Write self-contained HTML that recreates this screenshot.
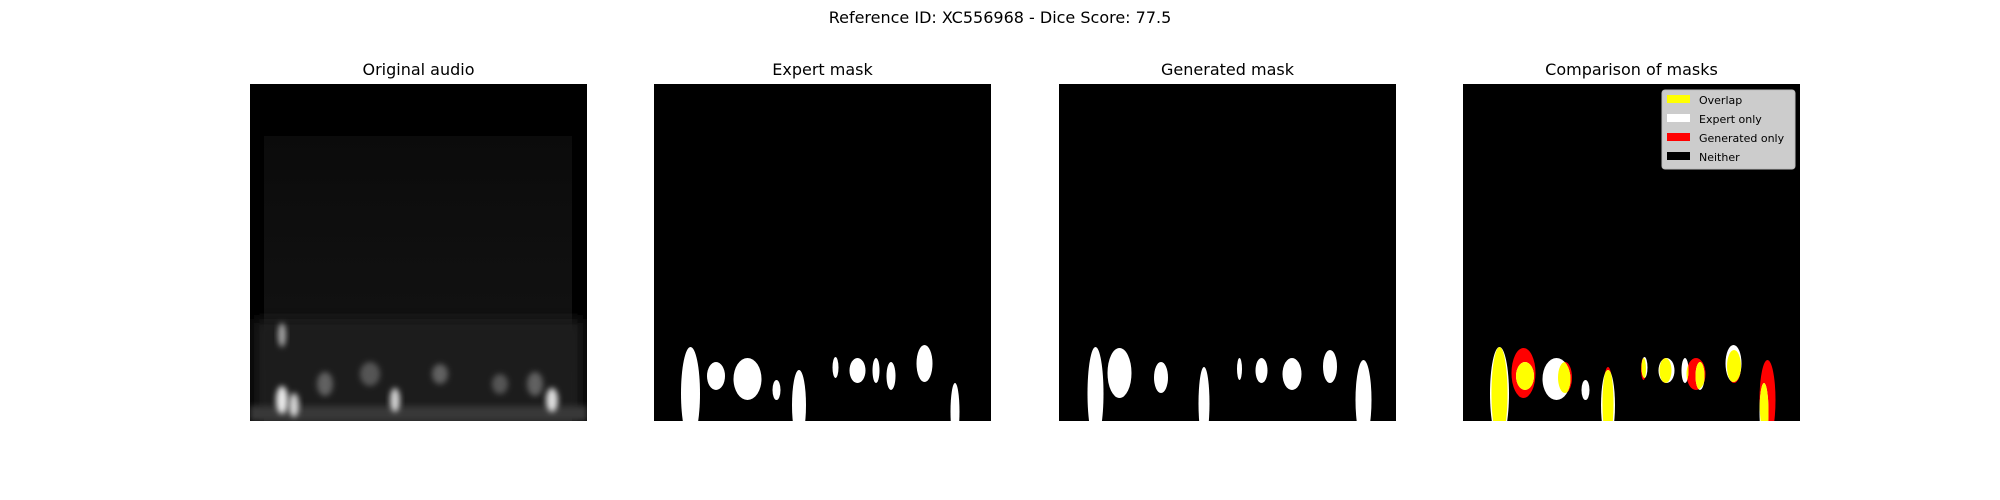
<!DOCTYPE html>
<html><head><meta charset="utf-8"><style>
html,body{margin:0;padding:0;background:#fff;}
svg{display:block;font-family:"DejaVu Sans","Liberation Sans",sans-serif;}
</style></head><body>
<svg id="fig" width="2000" height="500" viewBox="0 0 2000 500">
<defs>
<filter id="blur3" x="-50%" y="-50%" width="200%" height="200%"><feGaussianBlur stdDeviation="3"/></filter>
<filter id="blur6" x="-50%" y="-50%" width="200%" height="200%"><feGaussianBlur stdDeviation="6"/></filter>
<linearGradient id="specGrad" x1="0" y1="0" x2="0" y2="1">
<stop offset="0" stop-color="#0b0b0b"/><stop offset="0.6" stop-color="#111111"/><stop offset="0.85" stop-color="#191919"/><stop offset="1" stop-color="#262626"/></linearGradient>
<clipPath id="panelClip"><rect x="0" y="0" width="337" height="337"/></clipPath>
<clipPath id="expClip"></clipPath>
</defs>
<text x="1000" y="23" text-anchor="middle" font-size="16">Reference ID: XC556968 - Dice Score: 77.5</text>
<g id="p1" transform="translate(250,84)"></g>
<g id="p2" transform="translate(654,84)"></g>
<g id="p3" transform="translate(1059,84)"></g>
<g id="p4" transform="translate(1463,84)"></g>
</svg>
<script>
const panelTitles = ["Original audio","Expert mask","Generated mask","Comparison of masks"];
// blobs: [cx, cy, rx, ry] in image pixel units (0..337)
const expertBlobs = [[36.5,309.5,9.5,46.5],[62,292,9,14],[93.5,295,14,21],[122.5,306,4,10],[145,321,7,35],[181.5,283.5,3,10.5],[203.5,286.5,8,12.5],[222,286.5,3.5,12.5],[237,292,4.5,14],[270.5,279.5,8,18.5],[301,327.5,4.5,28.5]];
const generatedBlobs = [[36.5,309.5,8,46.5],[60.5,289,12,25],[102,293.5,7,15.5],[145,319.5,5.5,36.5],[180.5,285,2.5,11],[202.5,286.5,6,12.5],[233,290,9.5,16],[271,282.5,7,16.5],[304.5,316,8,40]];
const specSpots = [[32,316,6,14,0.9],[44,321,5,12,0.8],[145,316,5,12,0.8],[302,316,6,12,0.85],[32,251,4,12,0.6],[75,300,8,12,0.3],[190,290,8,10,0.3],[250,300,8,10,0.25],[120,290,10,12,0.25],[285,300,8,12,0.3]];
const legendLabels = ["Overlap","Expert only","Generated only","Neither"];
const legendColors = ["#ffff00","#ffffff","#ff0000","#000000"];
const NS="http://www.w3.org/2000/svg";
function mk(tag,attrs,parent){const e=document.createElementNS(NS,tag);for(const k in attrs)e.setAttribute(k,attrs[k]);if(parent)parent.appendChild(e);return e;}
const panels=["p1","p2","p3","p4"].map(id=>document.getElementById(id));
panels.forEach((p,i)=>{
  const t=mk("text",{x:168.5,y:-9,"text-anchor":"middle","font-size":"16"},p);
  t.textContent=panelTitles[i];
  
  
  const bg=mk("rect",{x:0,y:0,width:337,height:337,fill:"#000"},p);
  
  
});
(function(){
  const g=mk("g",{"clip-path":"url(#panelClip)"},panels[0]);
  const r=mk("rect",{x:14,y:52,width:308,height:285,fill:"url(#specGrad)"},g);
  
  
  const band=mk("rect",{x:4,y:235,width:329,height:102,fill:"#1b1b1b",filter:"url(#blur6)"},g);
  
  
  const low=mk("rect",{x:0,y:322,width:337,height:15,fill:"#383838",filter:"url(#blur3)"},g);
  
  
  specSpots.forEach(s=>{
    const e=mk("ellipse",{cx:s[0],cy:s[1],rx:s[2],ry:s[3],fill:"#fff","fill-opacity":s[4],filter:"url(#blur3)"},g);
    
    
  });
})();
function drawBlobs(parent,blobs,color,name){
  blobs.forEach(b=>{
    const e=mk("ellipse",{cx:b[0],cy:b[1],rx:b[2],ry:b[3],fill:color},parent);
    
    
  });
}
drawBlobs(mk("g",{"clip-path":"url(#panelClip)"},panels[1]),expertBlobs,"#fff","expert-region");
drawBlobs(mk("g",{"clip-path":"url(#panelClip)"},panels[2]),generatedBlobs,"#fff","generated-region");
const ec=document.getElementById("expClip");
expertBlobs.forEach(b=>mk("ellipse",{cx:b[0],cy:b[1],rx:b[2],ry:b[3]},ec));
const cg=mk("g",{"clip-path":"url(#panelClip)"},panels[3]);
drawBlobs(cg,generatedBlobs,"#ff0000","generated-only-region");
drawBlobs(cg,expertBlobs,"#ffffff","expert-only-region");
drawBlobs(mk("g",{"clip-path":"url(#expClip)"},cg),generatedBlobs,"#ffff00","overlap-region");
(function(){
  const lg=mk("g",{transform:"translate(199,6)"},panels[3]);
  
  
  mk("rect",{x:0,y:0,width:133,height:79,rx:3,fill:"#cccccc",stroke:"#bbbbbb"},lg);
  legendLabels.forEach((l,i)=>{
    const y=10+i*19;
    const it=mk("g",{},lg);
    
    
    mk("rect",{x:5,y:y-5,width:23,height:8,fill:legendColors[i]},it);
    const t=mk("text",{x:37,y:y+4,"font-size":"11",fill:"#000"},it);
    t.textContent=l;
  });
})();
</script>
</body></html>
